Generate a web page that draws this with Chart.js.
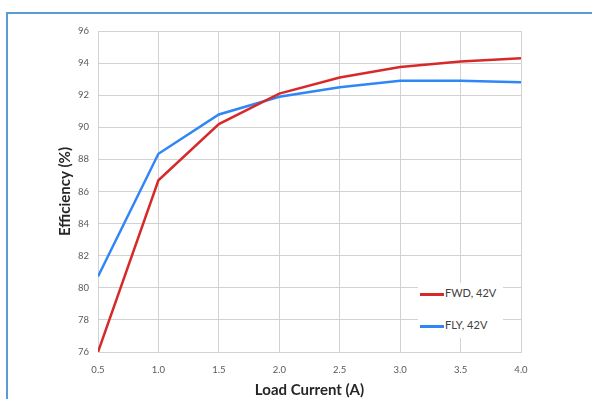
<!DOCTYPE html>
<html>
<head>
<meta charset="utf-8">
<script src="https://cdn.jsdelivr.net/npm/chart.js@4.4.0/dist/chart.umd.min.js"></script>
<style>
    body{ margin:0; background:#fff; }
    #wrap{ position:relative; width:592px; height:399px; overflow:hidden; }
    #frame{ position:absolute; left:6px; top:12px; width:584px; height:400px;
        border-top:2px solid #5b9bd5; border-left:2px solid #5b9bd5; border-right:1px solid #c9daf0; }
    #legend{ position:absolute; left:418px; top:283px; width:85px; height:55px; background:#fff;
        font-family:Lato, "Open Sans", sans-serif; font-size:11px; color:#404040; }
    .item{ position:absolute; left:2px; height:14px; line-height:14px; white-space:nowrap; }
    .item span{ display:inline-block; width:24px; height:3px; vertical-align:middle; margin-right:1px; }
</style>
</head>
<body>
<div id="wrap">
    <div id="frame"></div>
    <canvas id="chart" width="592" height="399" style="position:absolute;left:0;top:0;"></canvas>
    <div id="legend">
        <div class="item" style="top:3px;"><span style="background:#d62a2a;"></span>FWD, 42V</div>
        <div class="item" style="top:35px;"><span style="background:#2f86f6;"></span>FLY, 42V</div>
    </div>
</div>
<script>

const loadCurrent = [0.5, 1.0, 1.5, 2.0, 2.5, 3.0, 3.5, 4.0];
const fwd42 = [76.0, 86.7, 90.2, 92.1, 93.1, 93.75, 94.1, 94.3];
const fly42 = [80.7, 88.35, 90.8, 91.9, 92.5, 92.9, 92.9, 92.8];

const gridColor = "#d2d2d2";
const tickFont = { family:"Lato, 'Open Sans', sans-serif", size:9.5 };
const titleFont = { family:"Lato, 'Open Sans', sans-serif", size:15, weight:"bold" };

new Chart(document.getElementById("chart"),{

    type:"line",

    data:{
        datasets:[
            {
                label:"FWD, 42V",
                data:loadCurrent.map((x,i) => ({x, y:fwd42[i]})),
                borderColor:"#d62a2a",
                borderWidth:2.5,
                pointRadius:0,
                tension:0
            },
            {
                label:"FLY, 42V",
                data:loadCurrent.map((x,i) => ({x, y:fly42[i]})),
                borderColor:"#2f86f6",
                borderWidth:2.5,
                pointRadius:0,
                tension:0
            }
        ]
    },

    options:{
        responsive:false,
        animation:false,
        layout:{ padding:{ left:56, top:31, right:71, bottom:0 } },
        plugins:{ legend:{ display:false }, tooltip:{ enabled:false } },
        scales:{
            x:{
                type:"linear",
                min:0.5, max:4.0,
                afterFit:(s) => { s.height = 47; },
                grid:{ color:gridColor, drawTicks:false },
                border:{ color:gridColor },
                ticks:{ stepSize:0.5, padding:12, color:"#595959", font:tickFont,
                    callback:(v) => v.toFixed(1) },
                title:{ display:true, text:"Load Current (A)", padding:0, color:"#262626", font:titleFont }
            },
            y:{
                min:76, max:96,
                afterFit:(s) => { s.width = 42; },
                grid:{ color:gridColor, drawTicks:false },
                border:{ color:gridColor },
                ticks:{ stepSize:2, padding:9, color:"#595959", font:tickFont },
                title:{ display:true, text:"Efficiency (%)", padding:0, color:"#262626", font:titleFont }
            }
        }
    }

});

</script>
</body>
</html>
